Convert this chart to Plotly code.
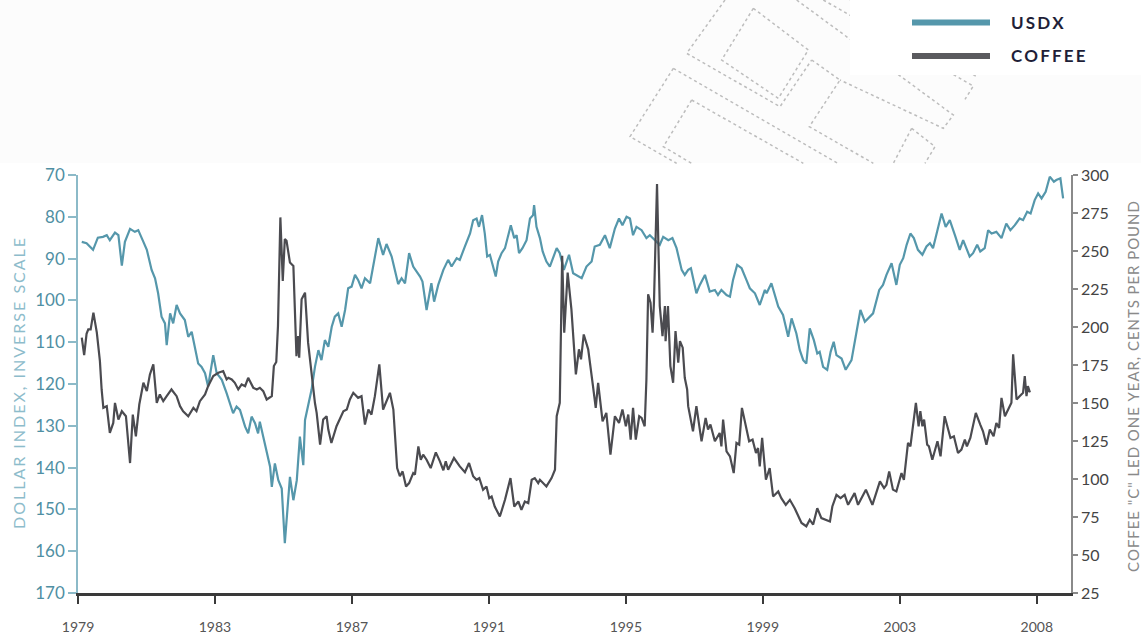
import plotly.graph_objects as go

# U.S. Dollar Index (inverse scale, left axis), decimal years
usdx_year = [
    1979.11, 1979.25, 1979.44, 1979.58, 1979.73, 1979.84, 1979.93, 1980.08, 1980.18, 1980.28,
    1980.37, 1980.52, 1980.66, 1980.76, 1980.91, 1981.01, 1981.15, 1981.25, 1981.34, 1981.44,
    1981.54, 1981.59, 1981.69, 1981.78, 1981.88, 1981.98, 1982.12, 1982.22, 1982.32, 1982.42,
    1982.51, 1982.61, 1982.71, 1982.80, 1982.95, 1983.05, 1983.20, 1983.34, 1983.49, 1983.53,
    1983.63, 1983.73, 1983.88, 1983.97, 1984.07, 1984.17, 1984.26, 1984.31, 1984.41, 1984.51,
    1984.61, 1984.66, 1984.75, 1984.85, 1984.95, 1985.04, 1985.14, 1985.19, 1985.29, 1985.39,
    1985.48, 1985.53, 1985.58, 1985.63, 1985.77, 1985.82, 1985.92, 1986.02, 1986.11, 1986.21,
    1986.31, 1986.41, 1986.50, 1986.60, 1986.70, 1986.80, 1986.89, 1986.99, 1987.09, 1987.18,
    1987.28, 1987.38, 1987.53, 1987.67, 1987.77, 1987.91, 1988.01, 1988.16, 1988.35, 1988.45,
    1988.55, 1988.67, 1988.79, 1988.89, 1988.99, 1989.06, 1989.18, 1989.32, 1989.40, 1989.52,
    1989.67, 1989.81, 1989.91, 1990.06, 1990.15, 1990.30, 1990.45, 1990.54, 1990.64, 1990.71,
    1990.80, 1990.88, 1990.95, 1991.03, 1991.13, 1991.20, 1991.27, 1991.37, 1991.47, 1991.56,
    1991.64, 1991.74, 1991.81, 1991.88, 1991.98, 1992.10, 1992.20, 1992.29, 1992.32, 1992.39,
    1992.49, 1992.57, 1992.68, 1992.78, 1992.88, 1992.98, 1993.07, 1993.19, 1993.34, 1993.46,
    1993.71, 1993.85, 1994.00, 1994.09, 1994.24, 1994.39, 1994.53, 1994.68, 1994.80, 1994.90,
    1995.02, 1995.12, 1995.21, 1995.31, 1995.46, 1995.60, 1995.70, 1995.85, 1995.99, 1996.09,
    1996.24, 1996.36, 1996.48, 1996.63, 1996.72, 1996.82, 1996.90, 1997.06, 1997.16, 1997.31,
    1997.45, 1997.60, 1997.69, 1997.79, 1997.94, 1998.04, 1998.13, 1998.25, 1998.38, 1998.52,
    1998.62, 1998.77, 1998.91, 1999.06, 1999.11, 1999.25, 1999.35, 1999.45, 1999.59, 1999.74,
    1999.84, 1999.98, 2000.08, 2000.18, 2000.27, 2000.37, 2000.49, 2000.59, 2000.66, 2000.76,
    2000.88, 2000.98, 2001.07, 2001.15, 2001.30, 2001.42, 2001.59, 2001.72, 2001.85, 2001.98,
    2002.12, 2002.22, 2002.40, 2002.51, 2002.61, 2002.76, 2002.90, 2003.00, 2003.10, 2003.20,
    2003.31, 2003.41, 2003.53, 2003.66, 2003.78, 2003.88, 2003.97, 2004.07, 2004.22, 2004.34,
    2004.46, 2004.61, 2004.75, 2004.85, 2004.95, 2005.04, 2005.14, 2005.26, 2005.35, 2005.48,
    2005.58, 2005.68, 2005.82, 2005.97, 2006.11, 2006.23, 2006.36, 2006.50, 2006.60, 2006.72,
    2006.82, 2006.94, 2007.04, 2007.14, 2007.26, 2007.38, 2007.50, 2007.57, 2007.69, 2007.77,
]
usdx_value = [
    86.0, 86.3, 87.9, 85.0, 84.8, 84.4, 85.6, 83.8, 84.4, 91.7,
    86.0, 82.9, 83.6, 83.2, 86.0, 87.9, 92.7, 94.7, 98.3, 103.9,
    105.5, 110.7, 103.1, 105.5, 101.1, 103.1, 104.7, 108.7, 107.5, 111.9,
    115.1, 115.9, 117.4, 120.6, 113.1, 117.4, 119.0, 122.2, 125.8, 127.0,
    125.4, 126.2, 130.2, 131.8, 127.8, 129.4, 131.8, 129.0, 132.6, 136.2,
    139.8, 144.6, 139.0, 143.0, 145.0, 158.1, 148.5, 142.2, 147.8, 143.0,
    132.6, 135.4, 139.4, 128.6, 123.8, 121.4, 115.9, 111.9, 114.3, 109.5,
    111.1, 106.3, 103.9, 103.1, 106.3, 102.3, 97.1, 96.7, 93.9, 95.1,
    97.1, 94.7, 95.9, 89.5, 85.1, 89.1, 86.5, 89.5, 96.1, 94.7,
    95.9, 88.7, 91.9, 93.1, 94.3, 95.5, 102.3, 95.9, 100.3, 96.3,
    92.7, 90.3, 91.9, 89.9, 90.3, 87.1, 84.0, 80.8, 80.4, 82.4,
    79.6, 84.0, 89.5, 89.1, 91.9, 94.3, 90.7, 88.7, 87.5, 84.8,
    82.0, 85.1, 84.4, 88.7, 87.5, 85.6, 80.4, 79.6, 77.2, 82.4,
    85.1, 88.3, 90.7, 91.9, 89.5, 87.5, 88.7, 92.7, 89.1, 93.5,
    94.7, 91.9, 90.7, 87.1, 86.7, 84.4, 87.5, 82.8, 80.4, 82.0,
    80.0, 80.4, 84.4, 82.4, 83.2, 85.1, 84.4, 85.6, 86.7, 84.8,
    85.6, 85.1, 87.5, 92.7, 93.9, 92.7, 92.3, 98.3, 96.3, 93.9,
    97.9, 97.5, 98.7, 97.5, 98.7, 99.1, 95.1, 91.5, 92.3, 95.1,
    97.1, 98.3, 101.1, 97.5, 98.3, 95.9, 98.7, 101.5, 103.5, 108.7,
    104.3, 107.9, 111.9, 114.3, 115.1, 106.7, 109.5, 112.7, 112.3, 115.9,
    116.6, 112.3, 109.9, 113.1, 113.9, 116.6, 114.3, 108.7, 102.3, 105.1,
    103.9, 103.1, 97.5, 96.3, 93.9, 91.1, 96.3, 91.5, 89.9, 86.7,
    84.0, 85.1, 87.9, 89.1, 87.1, 86.3, 87.5, 84.0, 79.2, 82.4,
    80.8, 84.4, 87.9, 85.6, 87.5, 89.5, 88.7, 86.7, 88.3, 87.5,
    83.2, 84.0, 83.6, 85.1, 81.6, 83.2, 82.0, 80.4, 80.8, 78.8,
    79.2, 76.0, 74.4, 75.6, 74.0, 70.4, 71.6, 71.2, 70.8, 75.6,
]

# Coffee "C" futures led one year, cents per pound (right axis)
coffee_year = [
    1979.11, 1979.18, 1979.25, 1979.30, 1979.37, 1979.45, 1979.55, 1979.64, 1979.69, 1979.74,
    1979.84, 1979.93, 1980.03, 1980.08, 1980.18, 1980.28, 1980.40, 1980.52, 1980.60, 1980.69,
    1980.79, 1980.91, 1981.01, 1981.10, 1981.20, 1981.30, 1981.39, 1981.49, 1981.59, 1981.73,
    1981.88, 1981.98, 1982.07, 1982.22, 1982.37, 1982.46, 1982.56, 1982.71, 1982.80, 1982.95,
    1983.10, 1983.24, 1983.34, 1983.39, 1983.49, 1983.58, 1983.68, 1983.78, 1983.88, 1983.97,
    1984.12, 1984.22, 1984.31, 1984.41, 1984.51, 1984.66, 1984.72, 1984.79, 1984.84, 1984.91,
    1984.98, 1985.04, 1985.09, 1985.19, 1985.29, 1985.38, 1985.43, 1985.46, 1985.53, 1985.63,
    1985.72, 1985.82, 1985.92, 1985.97, 1986.07, 1986.16, 1986.26, 1986.31, 1986.40, 1986.55,
    1986.65, 1986.75, 1986.85, 1986.94, 1987.04, 1987.18, 1987.28, 1987.38, 1987.48, 1987.57,
    1987.67, 1987.80, 1987.91, 1988.01, 1988.11, 1988.21, 1988.26, 1988.32, 1988.40, 1988.48,
    1988.58, 1988.67, 1988.79, 1988.84, 1988.94, 1989.01, 1989.08, 1989.18, 1989.30, 1989.45,
    1989.57, 1989.67, 1989.74, 1989.81, 1989.98, 1990.15, 1990.30, 1990.42, 1990.54, 1990.64,
    1990.72, 1990.83, 1990.93, 1991.01, 1991.08, 1991.17, 1991.32, 1991.47, 1991.63, 1991.74,
    1991.86, 1991.95, 1992.05, 1992.15, 1992.25, 1992.34, 1992.44, 1992.49, 1992.68, 1992.83,
    1992.93, 1992.98, 1993.07, 1993.14, 1993.20, 1993.30, 1993.41, 1993.54, 1993.63, 1993.69,
    1993.77, 1993.90, 1994.04, 1994.12, 1994.19, 1994.32, 1994.43, 1994.55, 1994.68, 1994.80,
    1994.90, 1995.00, 1995.07, 1995.14, 1995.21, 1995.29, 1995.39, 1995.46, 1995.55, 1995.60,
    1995.65, 1995.72, 1995.78, 1995.82, 1995.91, 1995.99, 1996.07, 1996.14, 1996.16, 1996.23,
    1996.30, 1996.38, 1996.45, 1996.53, 1996.58, 1996.66, 1996.72, 1996.79, 1996.82, 1996.96,
    1997.06, 1997.21, 1997.33, 1997.40, 1997.47, 1997.60, 1997.74, 1997.79, 1997.84, 1997.94,
    1998.04, 1998.15, 1998.23, 1998.31, 1998.39, 1998.50, 1998.60, 1998.70, 1998.80, 1998.86,
    1998.91, 1998.98, 1999.09, 1999.20, 1999.30, 1999.45, 1999.54, 1999.67, 1999.79, 1999.93,
    2000.13, 2000.27, 2000.37, 2000.47, 2000.59, 2000.71, 2000.84, 2000.96, 2001.03, 2001.15,
    2001.27, 2001.39, 2001.49, 2001.68, 2001.78, 2002.01, 2002.20, 2002.42, 2002.54, 2002.61,
    2002.69, 2002.80, 2002.90, 2003.05, 2003.12, 2003.24, 2003.31, 2003.47, 2003.55, 2003.60,
    2003.66, 2003.71, 2003.80, 2003.85, 2003.95, 2004.10, 2004.19, 2004.31, 2004.48, 2004.58,
    2004.70, 2004.80, 2004.90, 2004.96, 2005.06, 2005.22, 2005.35, 2005.43, 2005.53, 2005.63,
    2005.74, 2005.82, 2005.90, 2005.97, 2006.07, 2006.16, 2006.26, 2006.31, 2006.41, 2006.50,
    2006.60, 2006.65, 2006.70, 2006.74, 2006.80,
]
coffee_value = [
    193.0, 181.5, 195.5, 198.5, 198.4, 209.5, 196.3, 177.5, 158.9, 146.8,
    147.9, 130.3, 136.9, 150.1, 139.1, 144.6, 141.3, 110.5, 142.4, 128.1,
    149.0, 163.3, 157.8, 168.8, 175.4, 150.1, 155.6, 151.2, 154.5, 158.9,
    154.5, 147.9, 144.6, 141.3, 146.8, 144.6, 151.2, 155.6, 161.1, 167.7,
    169.9, 171.0, 165.5, 166.6, 165.5, 163.3, 158.9, 162.2, 161.1, 166.6,
    160.0, 158.9, 160.0, 157.8, 152.3, 154.5, 174.3, 177.0, 200.6, 272.1,
    230.3, 257.8, 256.7, 242.4, 240.2, 180.8, 194.0, 179.8, 218.2, 222.6,
    189.7, 167.7, 150.0, 143.5, 122.6, 139.1, 141.3, 132.5, 123.7, 134.7,
    140.2, 144.6, 145.7, 152.3, 156.7, 153.4, 154.5, 135.8, 145.7, 142.4,
    154.5, 175.4, 145.7, 151.2, 156.7, 145.7, 130.3, 107.2, 101.8, 105.0,
    95.1, 97.3, 103.9, 102.8, 121.5, 112.7, 116.0, 112.7, 107.2, 117.5,
    111.6, 105.7, 111.6, 106.1, 113.8, 108.3, 104.4, 110.5, 101.8, 99.5,
    100.6, 92.9, 95.1, 87.4, 88.5, 81.9, 75.3, 86.3, 100.6, 81.9,
    85.2, 79.7, 85.2, 84.1, 99.5, 100.6, 97.3, 99.5, 95.1, 100.6,
    106.1, 141.3, 150.1, 246.8, 196.3, 235.8, 211.6, 168.8, 185.3, 178.7,
    195.1, 185.3, 161.1, 146.8, 163.3, 137.9, 143.5, 116.0, 141.3, 136.9,
    145.7, 134.7, 142.4, 125.9, 146.8, 125.9, 141.3, 140.2, 134.7, 165.5,
    221.5, 216.0, 196.3, 216.0, 294.1, 213.8, 194.0, 213.8, 190.7, 213.8,
    174.3, 163.3, 197.3, 176.5, 190.7, 186.4, 166.6, 158.9, 147.9, 131.4,
    147.9, 124.8, 140.2, 132.5, 135.8, 124.8, 130.3, 121.5, 139.1, 118.2,
    114.9, 103.9, 123.7, 122.6, 146.8, 134.7, 124.8, 125.9, 117.1, 120.4,
    108.3, 127.0, 99.5, 107.2, 88.5, 91.8, 87.4, 83.0, 86.3, 80.8,
    71.1, 68.9, 73.2, 70.0, 80.8, 74.3, 73.2, 72.1, 81.9, 89.6,
    87.4, 89.6, 83.0, 90.7, 83.0, 93.0, 83.0, 98.4, 94.0, 96.2,
    105.0, 93.0, 91.8, 103.9, 99.5, 123.7, 121.5, 150.1, 134.7, 144.6,
    134.7, 139.1, 122.6, 121.5, 112.7, 124.8, 114.9, 141.3, 127.0, 128.1,
    117.1, 119.3, 125.9, 121.5, 127.0, 143.5, 135.8, 131.4, 122.6, 132.5,
    128.1, 136.9, 133.6, 153.4, 141.3, 145.7, 150.1, 182.0, 152.3, 154.5,
    156.7, 167.7, 154.5, 161.1, 157.0,
]

x_tick_vals = [1979, 1983, 1987, 1991, 1995, 1999, 2003, 2007]
x_tick_text = ["1979", "1983", "1987", "1991", "1995", "1999", "2003", "2008"]
usdx_ticks = [70, 80, 90, 100, 110, 120, 130, 140, 150, 160, 170]
coffee_ticks = [25, 50, 75, 100, 125, 150, 175, 200, 225, 250, 275, 300]

TEAL = "#5597ab"
TEAL_LABEL = "#4f8fa3"
TEAL_TITLE = "#8dbccb"
COFFEE = "#4b4b50"
FONT = "Lato"

W, H = 1141, 635
ML, MR, MT, MB = 78, 70, 175, 42
PW, PH = W - ML - MR, H - MT - MB


def px(x):
    return (x - ML) / PW


def py(y):
    return (H - MB - y) / PH


def tracked(text, gap):
    """Widen letter spacing by joining characters with a narrow space."""
    return gap.join(text)


fig = go.Figure()
fig.add_trace(go.Scatter(
    x=usdx_year, y=usdx_value, mode="lines", name="USDX",
    line=dict(color=TEAL, width=2.2), yaxis="y", hoverinfo="skip",
))
fig.add_trace(go.Scatter(
    x=coffee_year, y=coffee_value, mode="lines", name="COFFEE",
    line=dict(color=COFFEE, width=2.2), yaxis="y2", hoverinfo="skip",
))

# Decorative outline pattern in the header band (drawn in header pixel space)
pattern = [
    [(345, 0), (230, 160), (510, 320), (605, 180)],
    [(430, 25), (335, 180), (505, 295), (595, 150), (430, 25)],
    [(605, 180), (690, 240), (598, 380), (790, 490)],
    [(190, 205), (60, 410), (200, 490)],
    [(190, 205), (684, 490)],
    [(245, 300), (160, 440), (245, 490)],
    [(245, 300), (580, 490)],
    [(905, 385), (975, 440), (945, 490)],
    [(905, 385), (850, 490)],
    [(560, 0), (1030, 345), (1000, 385), (690, 240)],
    [(640, 0), (1090, 258), (1065, 298)],
    [(720, 0), (1100, 230)],
]
shapes = [
    dict(type="rect", xref="paper", yref="paper", x0=px(0), x1=px(W), y0=py(163), y1=py(0),
         fillcolor="#fcfcfc", line=dict(width=0), layer="below"),
]
for pts in pattern:
    path = ""
    for i, (zx, zy) in enumerate(pts):
        X, Y = px(610 + zx / 3), py(zy / 3)
        path += ("M" if i == 0 else "L") + f"{X:.5f},{Y:.5f} "
    shapes.append(dict(type="path", xref="paper", yref="paper", path=path.strip(),
                       line=dict(color="#bdbdbd", width=1.5, dash="dot")))

# Legend box and swatches
shapes.append(dict(type="rect", xref="paper", yref="paper", x0=px(850), x1=px(W + 5),
                   y0=py(75), y1=py(-5), fillcolor="white", line=dict(width=0)))
shapes.append(dict(type="line", xref="paper", yref="paper", x0=px(912), x1=px(990),
                   y0=py(22.5), y1=py(22.5), line=dict(color=TEAL, width=6)))
shapes.append(dict(type="line", xref="paper", yref="paper", x0=px(912), x1=px(990),
                   y0=py(56), y1=py(56), line=dict(color="#5a5a5e", width=6)))

annotations = [
    dict(text="<b>" + tracked("USDX", "\u2009") + "</b>", xref="paper", yref="paper",
         x=px(1009), y=py(22.5), xanchor="left", yanchor="middle", showarrow=False,
         font=dict(family=FONT, size=17, color="#1f1f38")),
    dict(text="<b>" + tracked("COFFEE", "\u2009") + "</b>", xref="paper", yref="paper",
         x=px(1009), y=py(56), xanchor="left", yanchor="middle", showarrow=False,
         font=dict(family=FONT, size=17, color="#1f1f38")),
    dict(text=tracked("DOLLAR INDEX, INVERSE SCALE", "\u2009"), xref="paper", yref="paper",
         x=px(18), y=py(384), textangle=-90, xanchor="center", yanchor="middle",
         showarrow=False, font=dict(family=FONT, size=16, color=TEAL_TITLE)),
    dict(text=tracked("COFFEE \"C\" LED ONE YEAR, CENTS PER POUND", "\u200a"),
         xref="paper", yref="paper",
         x=px(1133), y=py(387), textangle=-90, xanchor="center", yanchor="middle",
         showarrow=False, font=dict(family=FONT, size=15, color="#8a8a8a")),
]

fig.update_layout(
    width=W, height=H,
    margin=dict(l=ML, r=MR, t=MT, b=MB, autoexpand=False),
    paper_bgcolor="white", plot_bgcolor="white",
    showlegend=False,
    shapes=shapes,
    annotations=annotations,
    xaxis=dict(
        range=[1979, 2008], tickvals=x_tick_vals, ticktext=x_tick_text,
        automargin=False,
        showgrid=False, zeroline=False,
        showline=True, linecolor="#3a3a3a", linewidth=2.5,
        ticks="outside", ticklen=8, tickwidth=1.5, tickcolor="#3a3a3a",
        ticklabelstandoff=11,
        tickfont=dict(family=FONT, size=14, color="#555555"),
    ),
    yaxis=dict(
        range=[170, 70], tickvals=usdx_ticks, automargin=False,
        showgrid=False, zeroline=False,
        showline=True, linecolor="#8cbac8", linewidth=1.5,
        ticks="outside", ticklen=8, tickwidth=1.5, tickcolor="#8cbac8",
        tickfont=dict(family=FONT, size=17, color=TEAL_LABEL),
    ),
    yaxis2=dict(
        range=[25, 300], tickvals=coffee_ticks, overlaying="y", side="right", anchor="x",
        automargin=False,
        showgrid=False, zeroline=False,
        showline=True, linecolor="#8a8a8a", linewidth=1.5,
        ticks="outside", ticklen=5, tickwidth=1.5, tickcolor="#8a8a8a",
        tickfont=dict(family=FONT, size=16, color="#444444"),
    ),
    yaxis3=dict(
        range=[25, 300], tickvals=coffee_ticks, overlaying="y", side="right", anchor="x",
        automargin=False,
        showgrid=False, zeroline=False, showline=False, showticklabels=False,
        ticks="inside", ticklen=5, tickwidth=1.5, tickcolor="#8a8a8a",
    ),
)

fig.write_html("out.html")
